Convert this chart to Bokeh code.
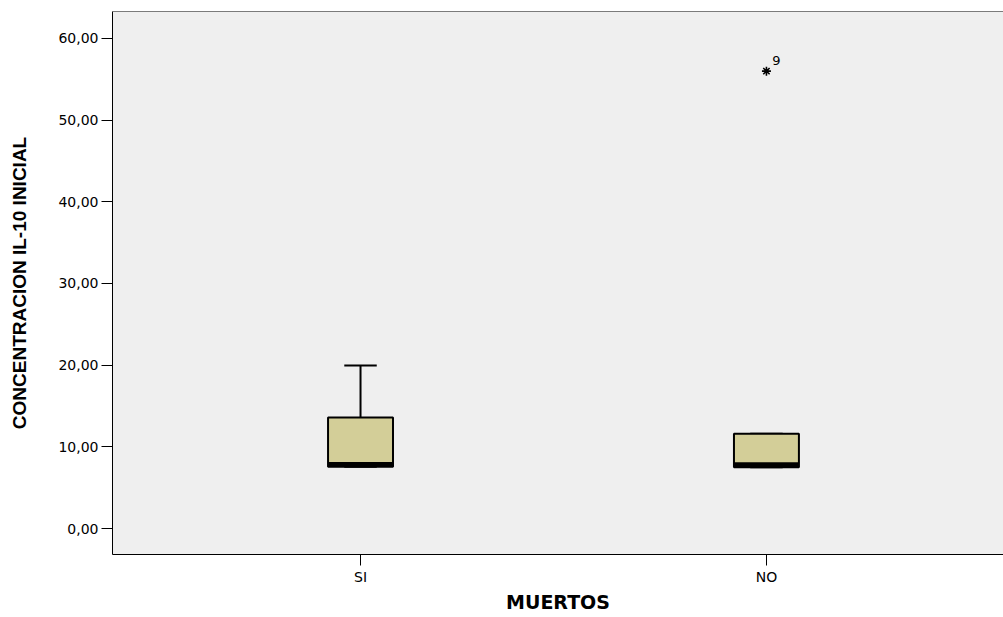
from bokeh.plotting import figure
from bokeh.models import Range1d, FixedTicker, Span, ColumnDataSource
from bokeh.core.properties import value
from bokeh.embed import file_html
from bokeh.resources import INLINE

# ---- data ----
categories = ["SI", "NO"]
q1 = [7.55, 7.5]
median = [7.85, 7.8]
q3 = [13.6, 11.6]
whisker_low = [7.55, 7.5]
whisker_high = [19.95, 11.6]
outlier_cat = ["NO"]
outlier_val = [56.0]
outlier_ids = ["9"]
y_ticks = [0, 10, 20, 30, 40, 50, 60]

xpos = {c: i + 1 for i, c in enumerate(categories)}
xs = [xpos[c] for c in categories]

p = figure(width=1003, height=617, output_backend="svg", toolbar_location=None,
           x_range=Range1d(0.389, 2.584), y_range=Range1d(-3.18, 63.3),
           min_border_left=112, min_border_right=0, min_border_top=11, min_border_bottom=63)
p.background_fill_color = "#EFEFEF"
p.border_fill_color = "white"
p.outline_line_color = None
p.xgrid.visible = False
p.ygrid.visible = False

src = ColumnDataSource(dict(x=xs, q1=q1, med=median, q3=q3, lo=whisker_low, hi=whisker_high))
box_w = 0.16
cap_w = 0.08
# whiskers
p.segment(x0="x", y0="q3", x1="x", y1="hi", source=src, line_color="black", line_width=2)
p.segment(x0="x", y0="q1", x1="x", y1="lo", source=src, line_color="black", line_width=2)
src.data["cl"] = [x - cap_w / 2 for x in xs]
src.data["cr"] = [x + cap_w / 2 for x in xs]
p.segment(x0="cl", y0="hi", x1="cr", y1="hi", source=src, line_color="black", line_width=2)
p.segment(x0="cl", y0="lo", x1="cr", y1="lo", source=src, line_color="black", line_width=2)
# boxes
p.vbar(x="x", bottom="q1", top="q3", width=box_w, source=src,
       fill_color="#D3CE98", line_color="black", line_width=2)
src.data["bl"] = [x - box_w / 2 for x in xs]
src.data["br"] = [x + box_w / 2 for x in xs]
p.segment(x0="bl", y0="med", x1="br", y1="med", source=src, line_color="black", line_width=5)

# outlier
osrc = ColumnDataSource(dict(x=[xpos[c] for c in outlier_cat], y=outlier_val, t=outlier_ids))
p.scatter(x="x", y="y", source=osrc, marker="asterisk", size=9, line_color="black", line_width=1.6)
p.text(x="x", y="y", text="t", source=osrc, x_offset=10, y_offset=-11,
       text_align="center", text_baseline="middle", text_font=value("DejaVu Sans"),
       text_font_size="13px", text_color="black")

# top border line
p.add_layout(Span(location=63.3, dimension="width", line_color="black", line_width=1))

# axes
p.xaxis.ticker = FixedTicker(ticks=xs)
p.xaxis.major_label_overrides = {x: c for x, c in zip(xs, categories)}
p.yaxis.ticker = FixedTicker(ticks=y_ticks)
p.yaxis.major_label_overrides = {t: f"{t:.2f}".replace(".", ",") for t in y_ticks}
for ax in (p.xaxis, p.yaxis):
    ax.minor_tick_line_color = None
    ax.major_tick_in = 0
    ax.major_tick_out = 11
    ax.major_tick_line_color = "black"
    ax.axis_line_color = "black"
    ax.major_label_text_font = "DejaVu Sans"
    ax.major_label_text_font_size = "14px"
    ax.major_label_text_color = "black"
    ax.major_label_standoff = 3
p.yaxis.axis_label = "CONCENTRACION IL-10 INICIAL"
p.yaxis.axis_label_text_font = "Liberation Sans"
p.yaxis.axis_label_text_font_style = "bold"
p.yaxis.axis_label_text_font_size = "19px"
p.yaxis.axis_label_text_color = "black"
p.yaxis.axis_label_standoff = 25

p.xaxis.axis_label = "MUERTOS"
p.xaxis.axis_label_text_font = "DejaVu Sans"
p.xaxis.axis_label_text_font_style = "bold"
p.xaxis.axis_label_text_font_size = "19px"
p.xaxis.axis_label_text_color = "black"
p.xaxis.axis_label_standoff = 3

open("out.html", "w").write(file_html(p, INLINE))
